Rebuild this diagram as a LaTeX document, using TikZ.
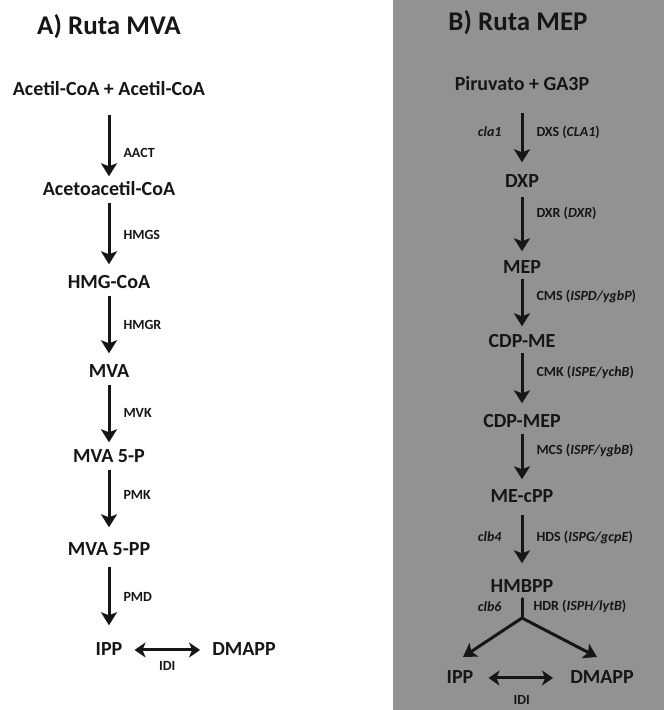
\documentclass[tikz,border=0pt]{standalone}
\usepackage{fontspec}
\setmainfont{Carlito}
\usetikzlibrary{positioning,arrows.meta}
\definecolor{panelgray}{RGB}{146,146,146}
\definecolor{inkdark}{RGB}{22,22,22}

\begin{document}
\begin{tikzpicture}[x=1pt,y=1pt,
        title/.style={font=\bfseries\fontsize{27}{32}\selectfont, text=inkdark},
        metab/.style={font=\bfseries\fontsize{20}{24}\selectfont, text=inkdark, inner sep=2pt, text height=13pt, text depth=2pt},
        enz/.style={font=\bfseries\fontsize{14}{16}\selectfont, text=inkdark, inner sep=1pt},
        gene/.style={enz, font=\bfseries\itshape\fontsize{14}{16}\selectfont},
        rxn/.style={draw=inkdark, line width=3pt, -{Stealth[length=13pt,width=16pt,inset=3pt]}, shorten <=3pt, shorten >=9pt},
        iso/.style={draw=inkdark, line width=3pt, {Stealth[length=11pt,width=15pt,inset=3pt]}-{Stealth[length=11pt,width=15pt,inset=3pt]}, shorten <=10pt, shorten >=10pt},
        stem/.style={draw=inkdark, line width=3pt, line cap=round, shorten <=2pt}]
        \useasboundingbox (0,0) rectangle (664,710);
        \fill[panelgray] (393,0) rectangle (664,710);

        \node [title] (TitleA) at (109,683) {A) Ruta MVA};
        \node [metab] (AcCoA) at (109,620) {Acetil-CoA + Acetil-CoA};
        \node [metab, on grid, below=100pt of AcCoA] (AcAcCoA) {Acetoacetil-CoA};
        \node [metab, on grid, below=93pt of AcAcCoA] (HMGCoA) {HMG-CoA};
        \node [metab, on grid, below=89pt of HMGCoA] (MVA) {MVA};
        \node [metab, on grid, below=85pt of MVA] (MVAP) {MVA 5-P};
        \node [metab, on grid, below=93pt of MVAP] (MVAPP) {MVA 5-PP};
        \node [metab, on grid, below=100pt of MVAPP] (IPP) {IPP};
        \node [metab, on grid, right=135pt of IPP] (DMAPP) {DMAPP};
        \draw [rxn, shorten <=15pt, shorten >=4pt] (AcCoA) -- node [enz, pos=0.66, right=12pt] {AACT} (AcAcCoA);
        \draw [rxn] (AcAcCoA) -- node [enz, pos=0.48, right=12pt] {HMGS} (HMGCoA);
        \draw [rxn] (HMGCoA) -- node [enz, pos=0.46, right=12pt] {HMGR} (MVA);
        \draw [rxn, shorten >=5pt] (MVA) -- node [enz, pos=0.48, right=12pt] {MVK} (MVAP);
        \draw [rxn, shorten >=13pt] (MVAP) -- node [enz, pos=0.39, right=12pt] {PMK} (MVAPP);
        \draw [rxn, shorten <=7pt, shorten >=15pt] (MVAPP) -- node [enz, pos=0.46, right=12pt] {PMD} (IPP);
        \draw [iso] (IPP) -- node [enz, below=9pt] {IDI} (DMAPP);

        \node [title] (TitleB) at (518,687) {B) Ruta MEP};
        \node [metab] (Pyr) at (522,625) {Piruvato + GA3P};
        \node [metab, on grid, below=97pt of Pyr] (DXP) {DXP};
        \node [metab, on grid, below=86pt of DXP] (MEP) {MEP};
        \node [metab, on grid, below=74pt of MEP] (CDPME) {CDP-ME};
        \node [metab, on grid, below=80pt of CDPME] (CDPMEP) {CDP-MEP};
        \node [metab, on grid, below=75pt of CDPMEP] (MEcPP) {ME-cPP};
        \node [metab, on grid, below=90pt of MEcPP] (HMBPP) {HMBPP};
        \coordinate [on grid, below=31pt of HMBPP] (Fork);
        \coordinate [on grid, below left=70pt and 59pt of HMBPP] (IPPTip);
        \coordinate [on grid, below right=70pt and 75pt of HMBPP] (DMAPPTip);
        \node [metab, on grid, below left=91pt and 62pt of HMBPP] (IPP2) {IPP};
        \node [metab, on grid, below right=91pt and 80pt of HMBPP] (DMAPP2) {DMAPP};
        \draw [rxn, shorten <=18pt, shorten >=10pt] (Pyr) -- node [enz, pos=0.48, right=12pt] (DXS) {DXS (\textit{CLA1})} node [gene, pos=0.48, left=18pt] (Cla1) {cla1} (DXP);
        \draw [rxn, shorten <=5pt, shorten >=7pt] (DXP) -- node [enz, pos=0.32, right=12pt] (DXR) {DXR (\textit{DXR})} (MEP);
        \draw [rxn, shorten <=1pt, shorten >=6pt] (MEP) -- node [enz, pos=0.35, right=12pt] (CMS) {CMS (\textit{ISPD/ygbP})} (CDPME);
        \draw [rxn, shorten <=1pt, shorten >=9pt] (CDPME) -- node [enz, pos=0.34, right=12pt] (CMK) {CMK (\textit{ISPE/ychB})} (CDPMEP);
        \draw [rxn, shorten <=2pt, shorten >=8pt] (CDPMEP) -- node [enz, pos=0.33, right=12pt] (MCS) {MCS (\textit{ISPF/ygbB})} (MEcPP);
        \draw [rxn, shorten <=8pt, shorten >=14pt] (MEcPP) -- node [enz, pos=0.43, right=12pt] (HDS) {HDS (\textit{ISPG/gcpE})} node [gene, pos=0.43, left=18pt] (Clb4) {clb4} (HMBPP);
        \draw [stem] (HMBPP) -- node [enz, pos=0.45, right=9pt] (HDR) {HDR (\textit{ISPH/lytB})} node [gene, pos=0.45, left=18pt] (Clb6) {clb6} (Fork);
        \draw [rxn, shorten <=0pt, shorten >=0pt] (Fork) -- (IPPTip);
        \draw [rxn, shorten <=0pt, shorten >=0pt] (Fork) -- (DMAPPTip);
        \draw [iso, shorten <=13pt, shorten >=15pt] (IPP2) -- node [enz, below=15pt] {IDI} (DMAPP2);
\end{tikzpicture}
\end{document}
